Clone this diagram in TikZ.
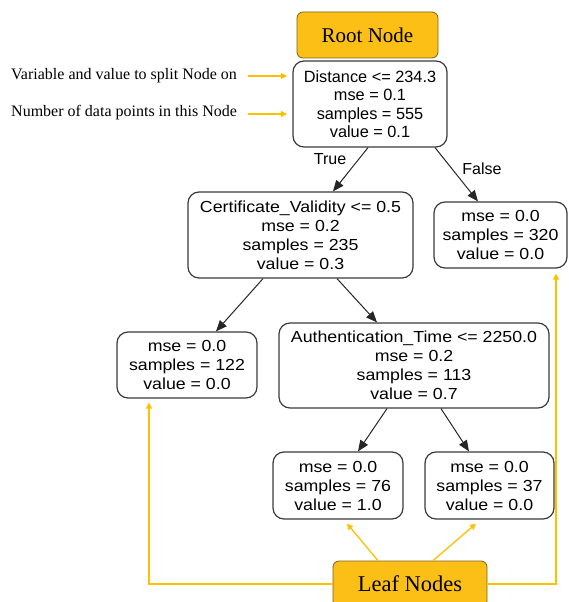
\documentclass[tikz,border=0pt]{standalone}
\usepackage{fontspec}
\setmainfont{Liberation Serif}
\newfontfamily\treefont{Liberation Sans}
\newfontfamily\treefontwide[FakeStretch=1.11]{Liberation Sans}
\usetikzlibrary{arrows.meta}
\definecolor{goldfill}{HTML}{FBBF15}
\definecolor{goldedge}{HTML}{7A6420}
\definecolor{goldline}{HTML}{FFC000}
\definecolor{nodeedge}{HTML}{3A3A3A}
\tikzset{
  treenode/.style={draw=nodeedge, line width=1.2pt, rounded corners=11pt, fill=white,
    align=center, inner sep=0pt, font=\treefontwide\fontsize{16}{19}\selectfont},
  rootnode/.style={treenode, font=\treefont\fontsize{16.3}{18.5}\selectfont},
  tag/.style={draw=goldedge, line width=0.8pt, fill=goldfill, rounded corners=6pt,
    inner sep=0pt},
  note/.style={anchor=west, inner sep=0pt, font=\fontsize{16}{19}\selectfont},
  edgelabel/.style={inner sep=0pt, font=\treefont\fontsize{16}{19}\selectfont},
  treeedge/.style={draw=black!85, line width=1pt, -{Triangle[length=11pt,width=9pt]}},
  goldarrow/.style={draw=goldline, line width=1.3pt, -{Triangle[length=6pt,width=6pt]}},
}
\begin{document}
\begin{tikzpicture}[x=1pt,y=-1pt]
\useasboundingbox (0,0) rectangle (568,602);

% annotation boxes
\node[tag, minimum width=141pt, minimum height=46pt, font=\fontsize{21}{24}\selectfont]
  (rootlbl) at (367.5,35) {Root Node};
\node[tag, minimum width=154pt, minimum height=46pt, font=\fontsize{22.5}{26}\selectfont]
  (leaflbl) at (410,584) {Leaf Nodes};

% tree nodes
\node[rootnode, minimum width=154pt, minimum height=86pt] (root) at (370,104)
  {Distance <= 234.3\\mse = 0.1\\samples = 555\\value = 0.1};
\node[treenode, minimum width=225pt, minimum height=86pt] (cert) at (300.5,235)
  {Certificate\_Validity <= 0.5\\mse = 0.2\\samples = 235\\value = 0.3};
\node[treenode, minimum width=133pt, minimum height=66pt] (leafA) at (500.5,235)
  {mse = 0.0\\samples = 320\\value = 0.0};
\node[treenode, minimum width=140pt, minimum height=66pt] (leafB) at (187,365)
  {mse = 0.0\\samples = 122\\value = 0.0};
\node[treenode, minimum width=270pt, minimum height=85pt] (auth) at (414,365.5)
  {Authentication\_Time <= 2250.0\\mse = 0.2\\samples = 113\\value = 0.7};
\node[treenode, minimum width=130pt, minimum height=67pt] (leafC) at (338,485.5)
  {mse = 0.0\\samples = 76\\value = 1.0};
\node[treenode, minimum width=129pt, minimum height=67pt] (leafD) at (489.5,485.5)
  {mse = 0.0\\samples = 37\\value = 0.0};

% split edges
\draw[treeedge] ([xshift=-2pt]root.south) -- ([xshift=32.5pt]cert.north);
\draw[treeedge] ([xshift=65pt]root.south) -- ([xshift=-22.5pt]leafA.north);
\draw[treeedge] ([xshift=-37.5pt]cert.south) -- ([xshift=29pt]leafB.north);
\draw[treeedge] ([xshift=36.5pt]cert.south) -- ([xshift=-37pt]auth.north);
\draw[treeedge] ([xshift=-27pt]auth.south) -- ([xshift=20pt]leafC.north);
\draw[treeedge] ([xshift=27pt]auth.south) -- ([xshift=-20.5pt]leafD.north);

\node[edgelabel] (truelbl) at (330,159) {True};
\node[edgelabel] (falselbl) at (482,169) {False};

% side notes
\node[note] (varnote) at (11,76) {Variable and value to split Node on};
\node[note] (numnote) at (11,113) {Number of data points in this Node};
\coordinate (varend) at (287,76);
\coordinate (numend) at (287,114);
\draw[goldarrow] ([xshift=11pt]varnote.east) -- (varend);
\draw[goldarrow] ([xshift=11pt]numnote.east |- numend) -- (numend);

% leaf pointers
\draw[goldarrow] (leaflbl.west) -| ([xshift=-38pt,yshift=-4pt]leafB.south);
\draw[goldarrow] (leaflbl.east) -| ([xshift=55.5pt,yshift=-5pt]leafA.south);
\draw[goldarrow] ([xshift=-32pt]leaflbl.north) -- ([xshift=9pt,yshift=-4pt]leafC.south);
\draw[goldarrow] ([xshift=23pt]leaflbl.north) -- ([xshift=-13.5pt,yshift=-4pt]leafD.south);
\end{tikzpicture}
\end{document}
